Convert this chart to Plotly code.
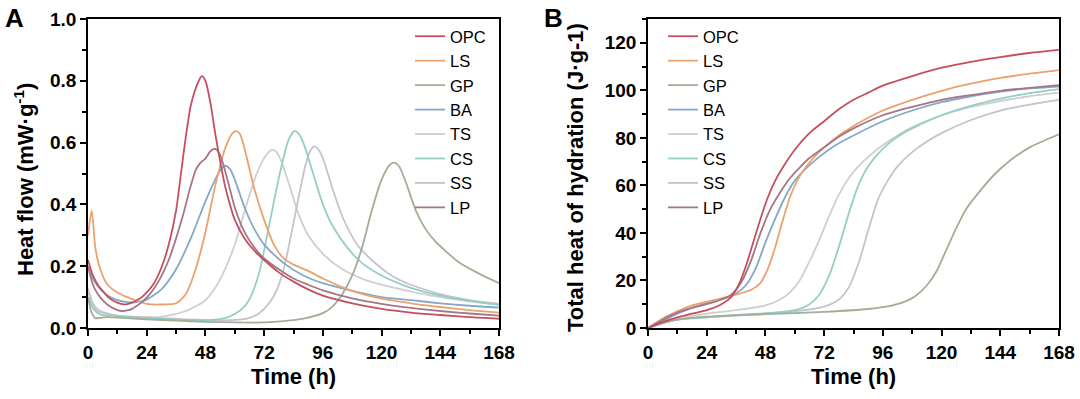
import plotly.graph_objects as go

# ---------------- Panel A: heat flow (mW/g) ----------------
names = ["OPC", "LS", "GP", "BA", "TS", "CS", "SS", "LP"]
colors = ["#c4505f", "#eba26e", "#a3ae96", "#84a8c8", "#cfcfd2", "#94cfc3", "#c6c2ce", "#a57786"]

a_opc_t = [0, 2, 4, 6, 8, 10, 12, 14, 16, 18, 20, 22, 24, 27, 30, 33, 36, 38, 40, 42, 44, 45, 46.5, 48, 50, 52, 54, 56, 58, 60, 64, 68, 72, 78, 84, 90, 96, 108, 120, 132, 144, 156, 168]
a_opc_v = [0.22, 0.17, 0.14, 0.12, 0.102, 0.09, 0.082, 0.077, 0.077, 0.082, 0.09, 0.1, 0.115, 0.145, 0.195, 0.27, 0.38, 0.5, 0.62, 0.72, 0.775, 0.795, 0.815, 0.8, 0.73, 0.63, 0.54, 0.46, 0.4, 0.35, 0.29, 0.25, 0.22, 0.18, 0.15, 0.125, 0.105, 0.08, 0.062, 0.05, 0.042, 0.035, 0.03]

a_ls_t = [0, 1.5, 3, 5, 8, 12, 16, 20, 24, 30, 36, 40, 44, 48, 52, 56, 59, 60.5, 62, 64, 68, 72, 76, 80, 84, 90, 96, 108, 120, 132, 144, 156, 168]
a_ls_v = [0.3, 0.38, 0.26, 0.19, 0.14, 0.115, 0.1, 0.088, 0.078, 0.076, 0.08, 0.11, 0.19, 0.31, 0.46, 0.58, 0.63, 0.637, 0.63, 0.58, 0.45, 0.35, 0.27, 0.225, 0.205, 0.185, 0.16, 0.12, 0.095, 0.08, 0.068, 0.058, 0.05]

a_gp_t = [0, 1.5, 3, 5, 8, 16, 24, 36, 48, 60, 72, 80, 88, 96, 100, 104, 108, 112, 116, 120, 123, 125, 127, 130, 134, 138, 142, 146, 152, 160, 168]
a_gp_v = [0.1, 0.05, 0.032, 0.033, 0.035, 0.032, 0.028, 0.024, 0.02, 0.018, 0.018, 0.022, 0.03, 0.048, 0.07, 0.11, 0.17, 0.26, 0.38, 0.48, 0.525, 0.535, 0.525, 0.47, 0.38, 0.32, 0.28, 0.25, 0.21, 0.175, 0.145]

a_ba_t = [0, 2, 4, 6, 8, 12, 16, 20, 24, 30, 36, 42, 48, 52, 54, 56, 58, 60, 64, 68, 72, 80, 88, 96, 108, 120, 132, 144, 156, 168]
a_ba_v = [0.2, 0.16, 0.135, 0.118, 0.105, 0.09, 0.084, 0.084, 0.092, 0.125, 0.19, 0.29, 0.41, 0.48, 0.51, 0.525, 0.515, 0.48, 0.39, 0.32, 0.27, 0.21, 0.17, 0.145, 0.12, 0.1, 0.09, 0.08, 0.072, 0.066]

a_ts_t = [0, 2, 4, 8, 12, 20, 30, 40, 48, 52, 56, 60, 63, 66, 69, 72, 74, 75.5, 77, 79, 82, 86, 90, 96, 104, 112, 120, 132, 144, 156, 168]
a_ts_v = [0.13, 0.08, 0.06, 0.047, 0.04, 0.035, 0.036, 0.055, 0.09, 0.13, 0.19, 0.27, 0.35, 0.43, 0.5, 0.55, 0.57, 0.577, 0.57, 0.54, 0.47, 0.37, 0.3, 0.24, 0.19, 0.16, 0.14, 0.118, 0.1, 0.086, 0.075]

a_cs_t = [0, 2, 4, 6, 10, 16, 24, 36, 48, 56, 60, 64, 67, 70, 73, 76, 79, 82, 84.5, 86, 88, 92, 96, 100, 106, 112, 120, 132, 144, 156, 168]
a_cs_v = [0.1, 0.065, 0.048, 0.042, 0.04, 0.036, 0.032, 0.027, 0.025, 0.032, 0.045, 0.07, 0.11, 0.18, 0.29, 0.41, 0.52, 0.61, 0.638, 0.63, 0.6, 0.5, 0.4, 0.33, 0.26, 0.21, 0.17, 0.13, 0.105, 0.088, 0.075]

a_ss_t = [0, 2, 4, 8, 12, 20, 30, 40, 50, 60, 66, 70, 74, 77, 80, 83, 86, 89, 91, 92.5, 94, 96, 100, 104, 110, 116, 124, 132, 144, 156, 168]
a_ss_v = [0.12, 0.075, 0.055, 0.045, 0.04, 0.036, 0.032, 0.028, 0.025, 0.026, 0.033, 0.048, 0.08, 0.12, 0.19, 0.3, 0.42, 0.53, 0.575, 0.588, 0.58, 0.55, 0.45, 0.36, 0.27, 0.22, 0.17, 0.14, 0.11, 0.09, 0.078]

a_lp_t = [0, 2, 4, 6, 8, 10, 12, 14, 16, 18, 20, 22, 24, 27, 30, 33, 36, 39, 42, 44, 46, 48, 50, 52, 54, 56, 58, 60, 64, 68, 72, 78, 84, 90, 96, 108, 120, 132, 144, 156, 168]
a_lp_v = [0.2, 0.14, 0.11, 0.09, 0.075, 0.065, 0.058, 0.055, 0.057, 0.062, 0.072, 0.083, 0.098, 0.128, 0.168, 0.22, 0.29, 0.37, 0.46, 0.51, 0.535, 0.548, 0.572, 0.58, 0.56, 0.51, 0.45, 0.39, 0.31, 0.26, 0.225, 0.19, 0.16, 0.14, 0.122, 0.096, 0.078, 0.065, 0.055, 0.047, 0.04]

# ---------------- Panel B: cumulative heat (J/g) ----------------
b_opc_t = [0, 6, 12, 18, 24, 30, 34, 37, 40, 43, 46, 49, 52, 56, 60, 66, 72, 78, 84, 90, 96, 108, 120, 132, 144, 156, 168]
b_opc_v = [0, 2.5, 4.5, 6, 7.5, 10, 13, 18, 26, 36, 46, 55, 62, 69, 75, 82, 87, 92, 96, 99, 102, 106, 109.5, 112, 114, 115.7, 117]

b_ls_t = [0, 6, 12, 18, 24, 30, 36, 42, 46, 49, 52, 55, 58, 61, 64, 68, 72, 78, 84, 96, 108, 120, 132, 144, 156, 168]
b_ls_v = [0, 4, 7, 9.5, 11, 12.5, 14, 16, 19, 25, 34, 45, 55, 62, 67, 72, 76, 81, 85, 91.5, 96, 99.8, 102.8, 105.2, 107, 108.5]

b_gp_t = [0, 6, 12, 24, 48, 72, 90, 100, 106, 110, 114, 118, 122, 126, 130, 136, 142, 148, 156, 168]
b_gp_v = [0, 2, 3.5, 4.8, 5.8, 6.8, 8, 9.5, 11.5, 14, 18, 24, 33, 42, 50, 58, 65, 70.5, 76, 81.5]

b_ba_t = [0, 6, 12, 18, 24, 30, 36, 40, 44, 48, 52, 56, 60, 64, 70, 76, 84, 96, 108, 120, 132, 144, 156, 168]
b_ba_v = [0, 3, 6, 8.5, 10.5, 12, 14.5, 18, 25, 36, 46, 55, 62, 66.5, 72, 76.5, 81, 87, 91.5, 95, 97.5, 99.5, 100.8, 101.6]

b_ts_t = [0, 6, 12, 24, 36, 48, 54, 58, 62, 66, 70, 74, 78, 82, 86, 90, 96, 102, 108, 120, 132, 144, 156, 168]
b_ts_v = [0, 2.5, 4, 6, 7.5, 9.5, 12, 15, 20, 28, 37, 47, 56, 63, 68, 72, 77, 81, 84.5, 89.5, 93, 95.5, 97.5, 99]

b_cs_t = [0, 6, 12, 24, 36, 48, 60, 66, 70, 74, 78, 82, 86, 90, 96, 102, 108, 120, 132, 144, 156, 168]
b_cs_v = [0, 2, 3.5, 4.5, 5.5, 6.2, 7.5, 10, 14, 22, 34, 48, 60, 68, 75.5, 80.5, 84, 89.5, 93.5, 96.5, 98.8, 100.5]

b_ss_t = [0, 6, 12, 24, 48, 60, 72, 78, 82, 86, 90, 94, 98, 102, 108, 114, 120, 132, 144, 156, 168]
b_ss_v = [0, 2, 3.5, 4.5, 6, 7, 9, 12, 17, 27, 41, 54, 62, 68, 74, 78.5, 82, 87.5, 91.5, 94, 96]

b_lp_t = [0, 6, 12, 18, 24, 30, 34, 38, 42, 46, 50, 54, 58, 62, 66, 72, 78, 84, 96, 108, 120, 132, 144, 156, 168]
b_lp_v = [0, 3.5, 6.5, 8.5, 10, 12, 14, 19, 28, 40, 50, 57, 63, 67.5, 71.5, 76, 80.5, 84, 89.5, 93, 96, 98, 99.8, 101, 102.2]

x_ticks = [0, 24, 48, 72, 96, 120, 144, 168]
a_ticks = [0.0, 0.2, 0.4, 0.6, 0.8, 1.0]
a_ticklabels = ["0.0", "0.2", "0.4", "0.6", "0.8", "1.0"]
b_ticks = [0, 20, 40, 60, 80, 100, 120]

series_a = [(a_opc_t, a_opc_v), (a_ls_t, a_ls_v), (a_gp_t, a_gp_v), (a_ba_t, a_ba_v),
            (a_ts_t, a_ts_v), (a_cs_t, a_cs_v), (a_ss_t, a_ss_v), (a_lp_t, a_lp_v)]
series_b = [(b_opc_t, b_opc_v), (b_ls_t, b_ls_v), (b_gp_t, b_gp_v), (b_ba_t, b_ba_v),
            (b_ts_t, b_ts_v), (b_cs_t, b_cs_v), (b_ss_t, b_ss_v), (b_lp_t, b_lp_v)]

FONT = "Liberation Sans, Arial, sans-serif"
W, H = 1080, 399

fig = go.Figure()
# draw order: light ones first so darker ones appear on top
order = [4, 6, 5, 2, 3, 1, 7, 0]
for i in order:
    t, v = series_a[i]
    fig.add_trace(go.Scatter(x=t, y=v, mode="lines", name=names[i], legend="legend",
                             line=dict(color=colors[i], width=1.8, shape="spline", smoothing=0.7),
                             xaxis="x", yaxis="y", legendrank=i))
for i in order:
    t, v = series_b[i]
    fig.add_trace(go.Scatter(x=t, y=v, mode="lines", name=names[i], legend="legend2",
                             line=dict(color=colors[i], width=1.8, shape="spline", smoothing=0.7),
                             xaxis="x2", yaxis="y2", legendrank=i))

def px_x(p):
    return p / W

def px_y(p):
    return 1 - p / H

axis_common = dict(showline=True, linecolor="black", linewidth=1.5, mirror=True,
                   ticks="outside", ticklen=6, tickwidth=1.5, tickcolor="black",
                   showgrid=False, zeroline=False,
                   tickfont=dict(family=FONT, size=19, color="black", weight="bold"),
                   automargin=False)

fig.update_layout(
    width=W, height=H, margin=dict(l=0, r=0, t=0, b=0),
    paper_bgcolor="white", plot_bgcolor="white",
    xaxis=dict(domain=[px_x(88), px_x(499)], range=[0, 168], tickvals=x_ticks, anchor="y",
               minor=dict(dtick=12, ticks="outside", ticklen=4, tickwidth=1.5, tickcolor="black", showgrid=False),
               **axis_common),
    yaxis=dict(domain=[px_y(328), px_y(19)], range=[0, 1.0], tickvals=a_ticks, ticktext=a_ticklabels,
               anchor="x",
               minor=dict(dtick=0.1, ticks="outside", ticklen=4, tickwidth=1.5, tickcolor="black", showgrid=False),
               **axis_common),
    xaxis2=dict(domain=[px_x(648), px_x(1059)], range=[0, 168], tickvals=x_ticks, anchor="y2",
                minor=dict(dtick=12, ticks="outside", ticklen=4, tickwidth=1.5, tickcolor="black", showgrid=False),
                **axis_common),
    yaxis2=dict(domain=[px_y(328), px_y(19)], range=[0, 130], tickvals=b_ticks, anchor="x2",
                minor=dict(dtick=10, ticks="outside", ticklen=4, tickwidth=1.5, tickcolor="black", showgrid=False),
                **axis_common),
    legend=dict(x=px_x(410), y=px_y(19), xanchor="left", yanchor="top",
                bgcolor="rgba(0,0,0,0)", font=dict(family=FONT, size=16.5, color="black"),
                itemwidth=30, tracegroupgap=0),
    legend2=dict(x=px_x(663), y=px_y(19), xanchor="left", yanchor="top",
                 bgcolor="rgba(0,0,0,0)", font=dict(family=FONT, size=16.5, color="black"),
                 itemwidth=30, tracegroupgap=0),
    showlegend=True,
)

ann_font = dict(family=FONT, size=22, color="black", weight="bold")
common = dict(xref="paper", yref="paper", showarrow=False, xanchor="center", yanchor="middle")
annotations = [
    dict(text="A", x=px_x(14), y=px_y(18), font=dict(family=FONT, size=26, color="black", weight="bold"), **common),
    dict(text="B", x=px_x(553), y=px_y(18), font=dict(family=FONT, size=26, color="black", weight="bold"), **common),
    dict(text="Time (h)", x=px_x(293), y=px_y(376), font=ann_font, **common),
    dict(text="Time (h)", x=px_x(853), y=px_y(376), font=ann_font, **common),
    dict(text="Heat flow (mW·g<sup>-1</sup>)", x=px_x(24), y=px_y(180), textangle=-90, font=ann_font, **common),
    dict(text="Total heat of hydration (J·g-1)", x=px_x(575), y=px_y(178), textangle=-90, font=ann_font, **common),
]
fig.update_layout(annotations=annotations)

fig.write_html("out.html", config={"displayModeBar": False},
               post_script="document.body.style.margin='0';")
